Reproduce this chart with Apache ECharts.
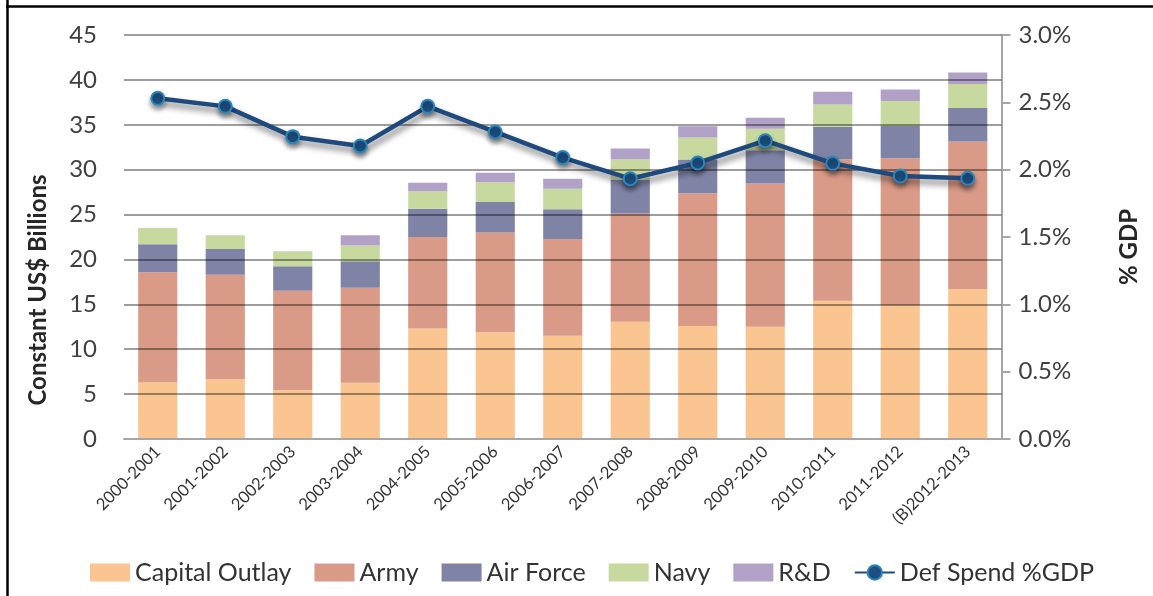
<!DOCTYPE html>
<html>
<head>
<meta charset="utf-8">
<script src="https://cdn.jsdelivr.net/npm/echarts@6/dist/echarts.min.js"></script>
<style>
html,body{margin:0;padding:0;background:#fff;}
#chart{width:1153px;height:596px;}
</style>
</head>
<body>
<div id="chart"></div>
<script>
const categories = ['2000-2001','2001-2002','2002-2003','2003-2004','2004-2005','2005-2006','2006-2007','2007-2008','2008-2009','2009-2010','2010-2011','2011-2012','(B)2012-2013'];
const capitalOutlay = [6.3, 6.65, 5.45, 6.27, 12.3, 11.9, 11.5, 13.06, 12.58, 12.5, 15.4, 14.92, 16.67];
const army = [12.26, 11.65, 11.05, 10.58, 10.2, 11.1, 10.77, 12.07, 14.8, 15.97, 15.75, 16.34, 16.48];
const airForce = [3.14, 2.85, 2.75, 2.95, 3.15, 3.4, 3.31, 3.77, 3.75, 3.7, 3.63, 3.59, 3.71];
const navy = [1.8, 1.55, 1.65, 1.75, 1.95, 2.2, 2.29, 2.25, 2.45, 2.4, 2.49, 2.79, 2.67];
const rnd = [null, null, null, 1.15, 0.95, 1.05, 1.12, 1.22, 1.25, 1.2, 1.41, 1.3, 1.3];
const defSpendGdp = [2.53, 2.47, 2.245, 2.176, 2.47, 2.28, 2.09, 1.933, 2.05, 2.215, 2.047, 1.953, 1.936];
const leftTicks = {min: 0, max: 45, interval: 5};
const rightTicks = {min: 0, max: 3, interval: 0.5};

const FONT = 'Lato';
const chart = echarts.init(document.getElementById('chart'), null, {renderer: 'canvas'});

function bar(name, data, color) {
  return {
    name: name, type: 'bar', stack: 'total', data: data, barWidth: '58%',
    itemStyle: {color: color}, z: 2
  };
}

chart.setOption({
  animation: false,
  textStyle: {fontFamily: FONT},
  grid: {left: 124, right: 151.5, top: 35, bottom: 157, containLabel: false},
  legend: {
    left: 85, top: 555, itemWidth: 40, itemHeight: 18, itemGap: 23,
    textStyle: {fontFamily: FONT, fontSize: 25, color: '#333'},
    data: [
      {name: 'Capital Outlay', icon: 'rect'},
      {name: 'Army', icon: 'rect'},
      {name: 'Air Force', icon: 'rect'},
      {name: 'Navy', icon: 'rect'},
      {name: 'R&D', icon: 'rect'},
      {name: 'Def Spend %GDP'}
    ]
  },
  xAxis: {
    type: 'category', data: categories, z: 3,
    axisLine: {show: true, lineStyle: {color: '#a6a6a6', width: 2}},
    axisTick: {show: false},
    axisLabel: {rotate: 45, fontSize: 16.5, color: '#333', fontFamily: FONT, margin: 10, interval: 0}
  },
  yAxis: [
    {
      type: 'value', min: leftTicks.min, max: leftTicks.max, interval: leftTicks.interval, z: 3,
      axisLine: {show: false}, axisTick: {show: false},
      splitLine: {show: true, lineStyle: {color: 'rgba(0,0,0,0.38)', width: 2}},
      axisLabel: {fontSize: 24, color: '#404040', fontFamily: FONT, margin: 27}
    },
    {
      type: 'value', min: rightTicks.min, max: rightTicks.max, interval: rightTicks.interval, position: 'right',
      axisLine: {show: true, lineStyle: {color: '#a6a6a6', width: 2}},
      axisTick: {show: true, length: 9, inside: false, lineStyle: {color: '#a6a6a6', width: 2}},
      splitLine: {show: false},
      axisLabel: {fontSize: 24, color: '#404040', fontFamily: FONT, margin: 17,
        formatter: function (v) { return v.toFixed(1) + '%'; }}
    }
  ],
  series: [
    bar('Capital Outlay', capitalOutlay, '#FAC590'),
    bar('Army', army, '#D99A87'),
    bar('Air Force', airForce, '#7F84A7'),
    bar('Navy', navy, '#C8D9A0'),
    bar('R&D', rnd, '#B2A1C7'),
    {
      name: 'Def Spend %GDP', type: 'line', yAxisIndex: 1, data: defSpendGdp, z: 10,
      symbol: 'circle', symbolSize: 13,
      lineStyle: {color: '#1F4A7E', width: 4.5, shadowColor: 'rgba(0,0,0,0.5)', shadowBlur: 6, shadowOffsetX: 2, shadowOffsetY: 5},
      itemStyle: {color: '#1D4F82', borderColor: '#2C86B8', borderWidth: 2, shadowColor: 'rgba(0,0,0,0.4)', shadowBlur: 5, shadowOffsetY: 4}
    }
  ],
  graphic: [
    {type: 'line', shape: {x1: 7.5, y1: 0, x2: 7.5, y2: 596}, style: {stroke: '#000', lineWidth: 2.5}},
    {type: 'line', shape: {x1: 6, y1: 6.5, x2: 1153, y2: 6.5}, style: {stroke: '#000', lineWidth: 2.5}},
    {type: 'text', x: 38, y: 290, rotation: Math.PI / 2,
      style: {text: 'Constant US$ Billions', font: 'bold 24px Lato', fill: '#262626', align: 'center', verticalAlign: 'middle'}},
    {type: 'text', x: 1129, y: 247, rotation: Math.PI / 2,
      style: {text: '% GDP', font: 'bold 24px Lato', fill: '#262626', align: 'center', verticalAlign: 'middle'}}
  ]
});
</script>
</body>
</html>
